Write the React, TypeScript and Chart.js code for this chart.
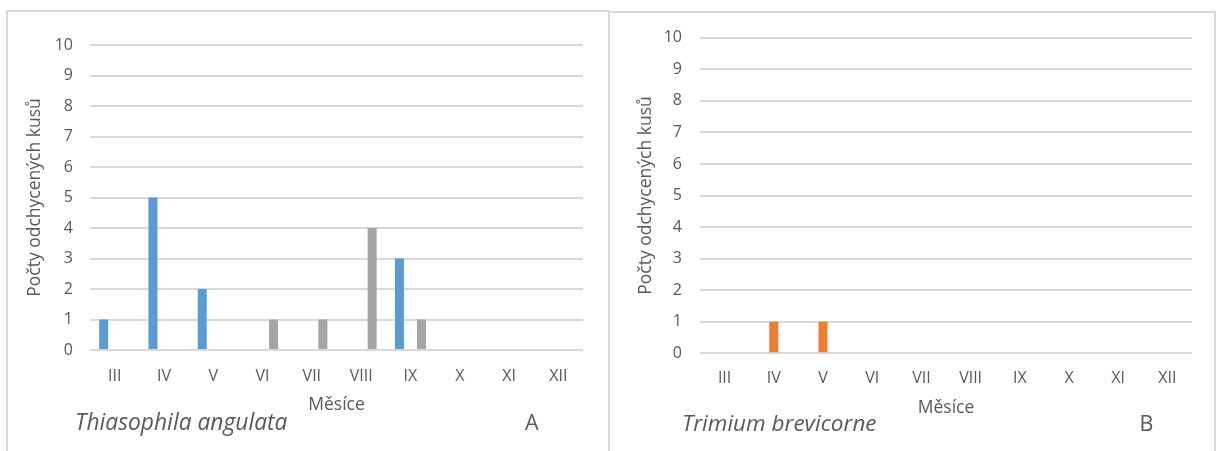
import React, { useEffect, useRef } from "react";
import { Chart, registerables } from "chart.js";

Chart.register(...registerables);

// Months of the collecting season (Roman numerals)
const months = ["III", "IV", "V", "VI", "VII", "VIII", "IX", "X", "XI", "XII"];
const yTicks = [0, 1, 2, 3, 4, 5, 6, 7, 8, 9, 10];

// Thiasophila angulata – counts per month for the three series
const thiasophilaSeries1 = [1, 5, 2, 0, 0, 0, 3, 0, 0, 0];
const thiasophilaSeries2 = [0, 0, 0, 0, 0, 0, 0, 0, 0, 0];
const thiasophilaSeries3 = [0, 0, 0, 1, 1, 4, 1, 0, 0, 0];

// Trimium brevicorne – counts per month for the three series
const trimiumSeries1 = [0, 0, 0, 0, 0, 0, 0, 0, 0, 0];
const trimiumSeries2 = [0, 1, 1, 0, 0, 0, 0, 0, 0, 0];
const trimiumSeries3 = [0, 0, 0, 0, 0, 0, 0, 0, 0, 0];

const seriesColors = ["#5b9bd5", "#ed7d31", "#a5a5a5"];
const textColor = "#595959";
const gridColor = "#d9d9d9";
const fontFamily = "'Open Sans', 'Noto Sans', sans-serif";

type PanelProps = {
  left: number;
  series: number[][];
  species: string;
  letter: string;
  areaLeft: number;
  areaTop: number;
  areaBottom: number;
  yTitleX: number;
  yTickPad: number;
  xTickPad: number;
  xTitlePad: number;
  speciesX: number;
  speciesSize: number;
  letterX: number;
  baseline: number;
};

const W = 608;
const H = 451;

function Panel(p: PanelProps) {
  const ref = useRef<HTMLCanvasElement | null>(null);

  useEffect(() => {
    if (!ref.current) return;
    // Species name and panel letter under the plot
    const captionPlugin = {
      id: "caption",
      afterDraw(chart: Chart) {
        const ctx = chart.ctx;
        ctx.save();
        ctx.fillStyle = textColor;
        ctx.textBaseline = "alphabetic";
        ctx.textAlign = "left";
        ctx.font = `italic ${p.speciesSize}px ${fontFamily}`;
        ctx.fillText(p.species, p.speciesX, p.baseline);
        ctx.font = `21.5px ${fontFamily}`;
        ctx.fillText(p.letter, p.letterX, p.baseline);
        ctx.restore();
      },
    };

    const chart = new Chart(ref.current, {
      type: "bar",
      data: {
        labels: months,
        datasets: p.series.map((d, i) => ({
          label: `Série ${i + 1}`,
          data: d,
          backgroundColor: seriesColors[i],
          borderWidth: 0,
          categoryPercentage: 0.67,
          barPercentage: 0.82,
        })),
      },
      options: {
        responsive: false,
        maintainAspectRatio: false,
        animation: false,
        devicePixelRatio: 1,
        layout: {
          padding: { left: 0, top: p.areaTop, right: 25, bottom: 0 },
        },
        plugins: {
          legend: { display: false },
          tooltip: { enabled: false },
        },
        scales: {
          x: {
            grid: { display: false, drawTicks: false },
            border: { display: false },
            ticks: {
              color: textColor,
              font: { family: fontFamily, size: 16 },
              padding: p.xTickPad,
              maxRotation: 0,
              autoSkip: false,
            },
            title: {
              display: true,
              text: "Měsíce",
              color: textColor,
              font: { family: fontFamily, size: 17.5 },
              padding: { top: 0, bottom: p.xTitlePad },
            },
            afterFit(scale: any) {
              scale.height = H - p.areaBottom;
            },
          },
          y: {
            min: 0,
            max: 10,
            afterBuildTicks(scale: any) {
              scale.ticks = yTicks.map((v) => ({ value: v }));
            },
            grid: { color: gridColor, lineWidth: 2, drawTicks: false },
            border: { display: false },
            ticks: {
              color: textColor,
              font: { family: fontFamily, size: 16 },
              padding: p.yTickPad,
            },
            title: {
              display: true,
              text: "Počty odchycených kusů",
              color: textColor,
              font: { family: fontFamily, size: 17.5 },
              padding: { top: p.yTitleX - 10.5, bottom: 0 },
            },
            afterFit(scale: any) {
              scale.width = p.areaLeft;
            },
          },
        },
      },
      plugins: [captionPlugin],
    });
    return () => chart.destroy();
  }, []);

  return (
    <canvas
      ref={ref}
      width={W}
      height={H}
      style={{ position: "absolute", left: p.left, top: 0, width: W, height: H }}
    />
  );
}

export default function App() {
  return (
    <div
      style={{
        position: "fixed",
        left: 0,
        top: 0,
        width: 1217,
        height: 451,
        background: "#ffffff",
        overflow: "hidden",
      }}
    >
      <div
        style={{
          position: "absolute",
          left: 6,
          top: 10,
          width: 600,
          height: 480,
          border: `2px solid ${gridColor}`,
        }}
      />
      <div
        style={{
          position: "absolute",
          left: 608,
          top: 11,
          width: 604,
          height: 480,
          border: `2px solid ${gridColor}`,
        }}
      />
      <Panel
        left={0}
        series={[thiasophilaSeries1, thiasophilaSeries2, thiasophilaSeries3]}
        species="Thiasophila angulata"
        letter="A"
        areaLeft={90}
        areaTop={45}
        areaBottom={350}
        yTitleX={35}
        yTickPad={17}
        xTickPad={16.5}
        xTitlePad={35.8}
        speciesX={75}
        speciesSize={22.8}
        letterX={525}
        baseline={430}
      />
      <Panel
        left={609}
        series={[trimiumSeries1, trimiumSeries2, trimiumSeries3]}
        species="Trimium brevicorne"
        letter="B"
        areaLeft={91}
        areaTop={37.7}
        areaBottom={353.3}
        yTitleX={37}
        yTickPad={18}
        xTickPad={15.7}
        xTitlePad={32.8}
        speciesX={73}
        speciesSize={22.5}
        letterX={530.5}
        baseline={431}
      />
    </div>
  );
}
